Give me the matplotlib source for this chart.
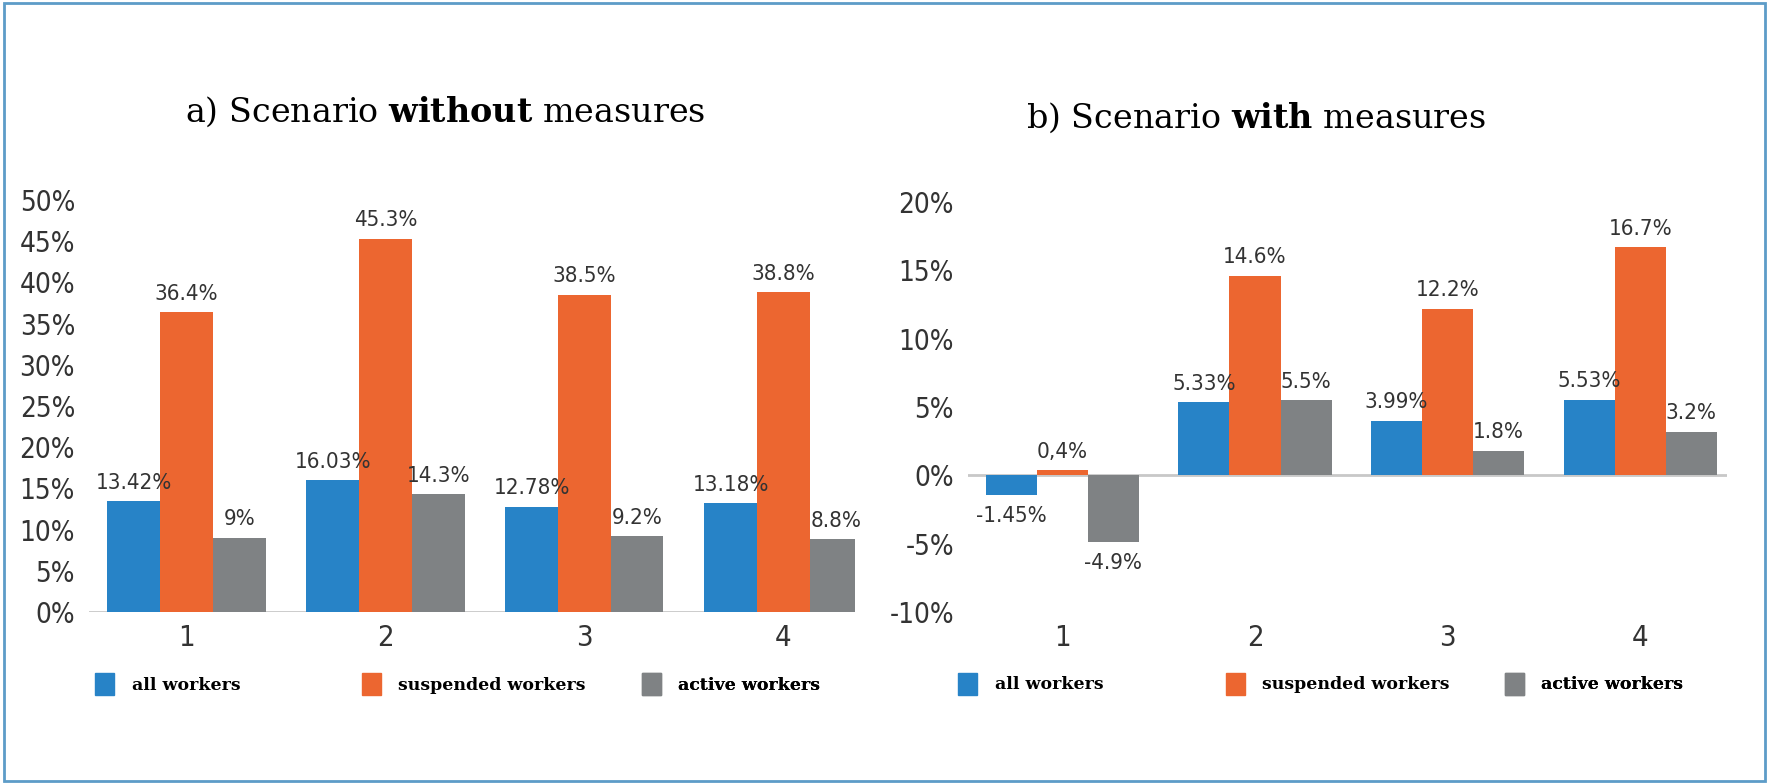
import numpy as np
import matplotlib.pyplot as plt
from matplotlib.patches import Rectangle, Patch

groups = ["1", "2", "3", "4"]
series = ["all workers", "suspended workers", "active workers"]
colors = ["#2783c7", "#ec6630", "#7f8284"]

# a) without measures
without_all = [13.42, 16.03, 12.78, 13.18]
without_susp = [36.4, 45.3, 38.5, 38.8]
without_active = [9.0, 14.3, 9.2, 8.8]
without_text = [["13.42%", "16.03%", "12.78%", "13.18%"],
                ["36.4%", "45.3%", "38.5%", "38.8%"],
                ["9%", "14.3%", "9.2%", "8.8%"]]
without_ticks = [0, 5, 10, 15, 20, 25, 30, 35, 40, 45, 50]

# b) with measures
with_all = [-1.45, 5.33, 3.99, 5.53]
with_susp = [0.4, 14.6, 12.2, 16.7]
with_active = [-4.9, 5.5, 1.8, 3.2]
with_text = [["-1.45%", "5.33%", "3.99%", "5.53%"],
             ["0,4%", "14.6%", "12.2%", "16.7%"],
             ["-4.9%", "5.5%", "1.8%", "3.2%"]]
with_ticks = [-10, -5, 0, 5, 10, 15, 20]

plt.rcParams["mathtext.fontset"] = "custom"
plt.rcParams["mathtext.rm"] = "DejaVu Serif"
plt.rcParams["mathtext.bf"] = "DejaVu Serif:bold"
num_font = dict(family="DejaVu Sans", stretch="condensed")

fig = plt.figure(figsize=(17.69, 7.84), dpi=100)
ax1 = fig.add_axes([0.0503, 0.2194, 0.433, 0.5255])
ax2 = fig.add_axes([0.5472, 0.2194, 0.429, 0.523])

width = 0.265


def panel(ax, data, texts, ticks, xlim, leg_pos):
    x = np.arange(len(groups))
    for i, vals in enumerate(data):
        bars = ax.bar(x + (i - 1) * width, vals, width, color=colors[i], label=series[i])
        for b, v, t in zip(bars, vals, texts[i]):
            off = 6 if v >= 0 else -8
            ax.annotate(t, (b.get_x() + b.get_width() / 2, v), xytext=(0, off),
                        textcoords="offset points", ha="center",
                        va="bottom" if v >= 0 else "top",
                        fontsize=16, color="#333333", **num_font)
    ax.set_xlim(*xlim)
    ax.set_ylim(ticks[0], ticks[-1])
    ax.set_xticks(x)
    ax.set_xticklabels(groups, fontsize=21, color="#333333", **num_font)
    ax.set_yticks(ticks)
    ax.set_yticklabels(["%d%%" % t for t in ticks], fontsize=20, color="#333333", **num_font)
    ax.tick_params(length=0)
    ax.tick_params(axis="y", pad=10)
    ax.tick_params(axis="x", pad=9)
    for s in ax.spines.values():
        s.set_visible(False)
    ax.axhline(0, color="#c8c8c8", lw=2, zorder=0)
    # one legend per entry, so the spacing can follow the original
    for c, name, lx in zip(colors, series, leg_pos):
        leg = ax.legend([Patch(color=c)], [name], loc="center left",
                        bbox_to_anchor=(lx, -0.175), frameon=False,
                        prop={"family": "DejaVu Serif", "weight": "bold", "size": 12.5},
                        handlelength=1.1, handleheight=1.55, handletextpad=1.0,
                        borderpad=0, borderaxespad=0)
        ax.add_artist(leg)


panel(ax1, [without_all, without_susp, without_active], without_text,
      without_ticks, (-0.49, 3.36), [0.008, 0.356, 0.722])
panel(ax2, [with_all, with_susp, with_active], with_text,
      with_ticks, (-0.49, 3.45), [-0.013, 0.34, 0.7075])

fig.text(0.2517, 0.857, r"a) Scenario $\mathbf{without}$ measures", ha="center", va="center",
         fontsize=24, family="DejaVu Serif")
fig.text(0.7097, 0.8495, r"b) Scenario $\mathbf{with}$ measures", ha="center", va="center",
         fontsize=24, family="DejaVu Serif")

fig.patches.append(Rectangle((0.002, 0.004), 0.996, 0.992, transform=fig.transFigure,
                             fill=False, edgecolor="#5d9cc8", lw=2))

fig.savefig("out.png", dpi=100)
